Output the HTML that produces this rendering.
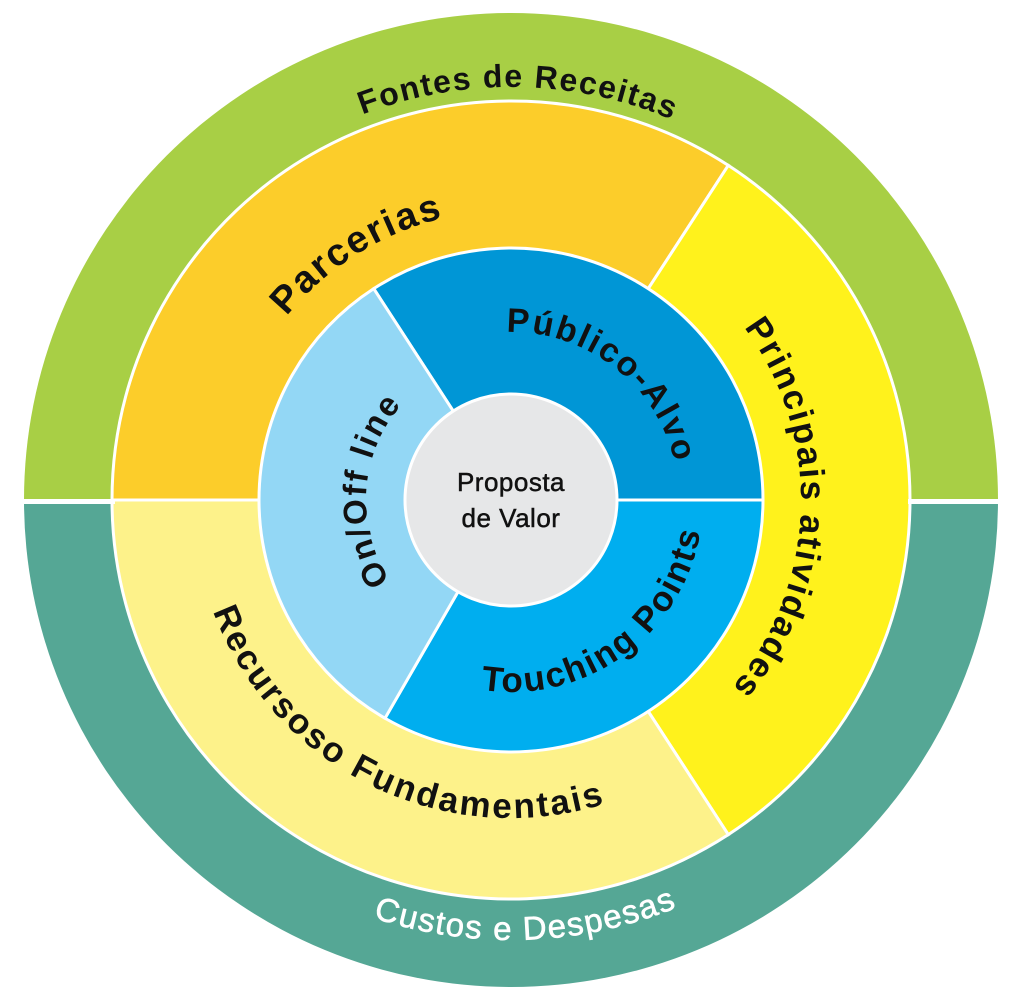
<!DOCTYPE html>
<html><head><meta charset="utf-8">
<style>
html,body{margin:0;padding:0;background:#fff;}
svg{display:block;}
text{font-family:"Liberation Sans","DejaVu Sans",sans-serif;font-weight:bold;}
</style></head>
<body>
<svg id="s" width="1024" height="1004" viewBox="0 0 1024 1004" xmlns="http://www.w3.org/2000/svg">
<defs>
<path id="pFontes"/><path id="pCustos"/><path id="pParc"/><path id="pPrinc"/><path id="pRec"/>
<path id="pPub"/><path id="pTouch"/><path id="pOn"/>
</defs>
<path id="outerTop" fill="#a8cf45"/>
<path id="outerBot" fill="#55a795"/>
<path id="mParc" fill="#fccd2a" stroke="#fff" stroke-width="3"/>
<path id="mPrinc" fill="#fff21c" stroke="#fff" stroke-width="3"/>
<path id="mRec" fill="#fdf28a" stroke="#fff" stroke-width="3"/>
<path id="iPub" fill="#0096d6" stroke="#fff" stroke-width="3"/>
<path id="iTouch" fill="#00aeef" stroke="#fff" stroke-width="3"/>
<path id="iOn" fill="#93d7f5" stroke="#fff" stroke-width="3"/>
<circle cx="511" cy="500" r="106" fill="#e6e7e8" stroke="#fff" stroke-width="3"/>
<rect x="15" y="499" width="100" height="5" fill="#fff"/>
<rect x="908" y="499" width="100" height="5" fill="#fff"/>

<text font-size="32" fill="#111" letter-spacing="1.5"><textPath href="#pFontes" startOffset="50%" text-anchor="middle">Fontes de Receitas</textPath></text>
<text font-size="33" fill="#fff" letter-spacing="1.5" stroke="#fff" stroke-width="0.6" style="font-weight:normal"><textPath href="#pCustos" startOffset="50%" text-anchor="middle">Custos e Despesas</textPath></text>
<text font-size="38" fill="#111" letter-spacing="2"><textPath href="#pParc" startOffset="50%" text-anchor="middle">Parcerias</textPath></text>
<text font-size="35" fill="#111" letter-spacing="2"><textPath href="#pPrinc" startOffset="50%" text-anchor="middle">Principais atividades</textPath></text>
<text font-size="35" fill="#111" letter-spacing="2.5"><textPath href="#pRec" startOffset="50%" text-anchor="middle">Recursoso Fundamentais</textPath></text>
<text font-size="34" fill="#111" letter-spacing="2"><textPath href="#pPub" startOffset="50%" text-anchor="middle">Público-Alvo</textPath></text>
<text font-size="35" fill="#111" letter-spacing="2"><textPath href="#pTouch" startOffset="50%" text-anchor="middle">Touching Points</textPath></text>
<text font-size="33" fill="#111" letter-spacing="2"><textPath href="#pOn" startOffset="50%" text-anchor="middle">On/Off line</textPath></text>

<text x="511" y="491" font-size="26" fill="#111" text-anchor="middle" letter-spacing="0.5" stroke="#111" stroke-width="0.5" style="font-weight:normal">Proposta</text>
<text x="511" y="527" font-size="26" fill="#111" text-anchor="middle" letter-spacing="0.5" stroke="#111" stroke-width="0.5" style="font-weight:normal">de Valor</text>
</svg>
<script>
var cx=511,cy=500;
function pt(r,a){a=a*Math.PI/180;return (cx+r*Math.cos(a)).toFixed(2)+" "+(cy+r*Math.sin(a)).toFixed(2);}
function wedge(r,a1,a2){var large=((a2-a1)%360+360)%360>180?1:0;return "M "+cx+" "+cy+" L "+pt(r,a1)+" A "+r+" "+r+" 0 "+large+" 1 "+pt(r,a2)+" Z";}
function cw(r,mid,span){return "M "+pt(r,mid-span)+" A "+r+" "+r+" 0 0 1 "+pt(r,mid+span);}
function ccw(r,mid,span){return "M "+pt(r,mid+span)+" A "+r+" "+r+" 0 0 0 "+pt(r,mid-span);}
function set(id,d){document.getElementById(id).setAttribute("d",d);}
set("outerTop",wedge(487,180,360));
set("outerBot",wedge(487,0,180));
set("mParc",wedge(399,180,303));
set("mPrinc",wedge(399,303,417));
set("mRec",wedge(399,57,180));
set("iPub",wedge(252,237,360));
set("iTouch",wedge(252,0,120));
set("iOn",wedge(252,120,237));
set("pFontes",cw(413,-89,80));
set("pCustos",ccw(440,88,80));
set("pParc",cw(290,-122,80));
set("pPrinc",cw(290,2,85));
set("pRec",ccw(318,116,85));
set("pPub",cw(168,-52,80));
set("pTouch",ccw(192,54,80));
set("pOn",cw(145,184,80));
</script>
</body></html>
